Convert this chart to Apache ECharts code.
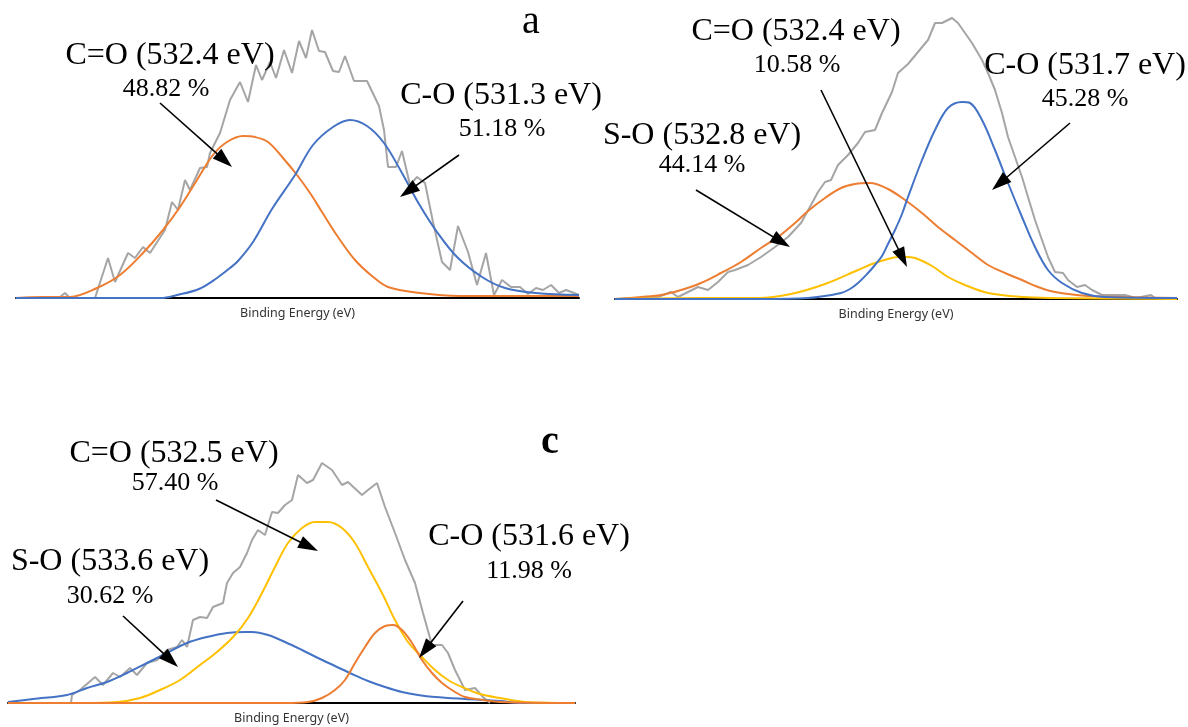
<!DOCTYPE html>
<html><head><meta charset="utf-8">
<script src="https://cdn.jsdelivr.net/npm/echarts@6/dist/echarts.min.js"></script>
<style>html,body{margin:0;padding:0;background:#fff}#chart{width:1188px;height:727px}</style>
</head><body><div id="chart"></div>
<script>
// ---------- Panel a (x: position along energy axis, y: intensity, a.u.) ----------
const aRaw = [[34,0],[44,1],[49,5],[54,0],[79,0],[92,40],[99,16],[112,45],[119,40],[127,51],[134,45],[149,68],[156,96],[162,88],[169,118],[174,108],[184,130],[191,131],[194,145],[204,165],[214,198],[224,216],[232,196],[240,233],[246,218],[254,236],[260,220],[268,248],[276,225],[283,257],[290,240],[296,268],[303,247],[309,246],[317,227],[323,226],[329,242],[338,217],[351,217],[363,192],[368,168],[372,131],[380,131],[386,147],[394,113],[401,121],[409,115],[417,76],[426,36],[434,28],[442,72],[452,46],[461,13],[470,45],[478,3],[486,18],[495,11],[504,11],[512,4],[520,10],[527,8],[535,13],[543,5],[550,8],[558,5],[563,3]];
const aCdO = [[0,0],[27,1],[54,1],[81,10],[104,23],[127,45],[147,68],[164,91],[181,118],[197,143],[211,156],[227,162],[239,161],[252,156],[267,140],[281,123],[294,105],[306,86],[322,61],[339,38],[356,22],[372,11],[404,5],[444,2],[563,2]];
const aCO = [[0,0],[124,0],[145,0],[161,3],[183,9],[201,20],[214,30],[222,37],[237,56],[256,89],[279,123],[297,153],[317,171],[334,178],[351,172],[368,155],[386,125],[403,94],[421,66],[441,41],[466,21],[489,10],[520,5],[563,3]];
const aTexts = ['C=O (532.4 eV)','48.82 %','C-O (531.3 eV)','51.18 %','a'];

// ---------- Panel b ----------
const bRaw = [[0,0],[25,1],[43,2],[56,7],[63,2],[73,7],[83,12],[93,9],[103,17],[113,27],[120,29],[133,34],[146,42],[160,52],[173,62],[186,76],[196,94],[203,107],[210,117],[216,119],[223,134],[233,144],[243,156],[250,167],[260,169],[267,186],[277,207],[283,226],[293,235],[303,247],[313,259],[320,276],[327,276],[337,281],[343,276],[350,266],[357,256],[367,239],[373,226],[380,209],[387,186],[393,162],[400,142],[407,122],[413,102],[420,79],[427,59],[433,42],[440,27],[448,26],[453,19],[462,12],[470,14],[477,9],[487,4],[505,4],[510,4],[521,1],[536,4],[540,1],[562,0]];
const bSO = [[0,0],[26,2],[46,4],[66,9],[86,16],[106,26],[126,37],[146,51],[163,62],[180,76],[193,88],[210,101],[226,111],[240,115],[255,116],[273,110],[290,99],[307,86],[323,72],[340,59],[357,46],[373,34],[390,26],[407,19],[423,12],[440,7],[473,3],[505,2],[562,1]];
const bCdO = [[0,0],[85,1],[143,1],[176,5],[210,15],[243,29],[257,35],[273,40],[283,42],[291,42],[300,41],[317,33],[333,22],[350,14],[373,6],[407,2],[440,1],[562,0]];
const bCO = [[0,0],[145,0],[193,1],[226,6],[235,10],[243,16],[253,26],[260,34],[267,43],[273,55],[280,69],[287,85],[293,102],[307,139],[320,169],[333,191],[347,197],[355,196],[367,179],[380,149],[393,116],[407,82],[420,52],[433,29],[447,16],[467,6],[490,2],[562,1]];
const bTexts = ['C=O (532.4 eV)','10.58 %','S-O (532.8 eV)','44.14 %','C-O (531.7 eV)','45.28 %'];

// ---------- Panel c ----------
const cRaw = [[63,0],[64,8],[72,13],[87,26],[95,18],[105,30],[112,26],[122,35],[129,28],[139,40],[149,43],[159,53],[169,56],[174,63],[179,56],[185,83],[192,86],[199,85],[205,96],[215,100],[219,120],[225,130],[232,136],[239,150],[244,163],[250,173],[257,168],[264,191],[270,190],[277,198],[284,203],[290,228],[299,220],[305,223],[314,240],[324,233],[334,218],[340,221],[354,208],[360,213],[369,220],[377,196],[387,170],[397,143],[407,120],[415,90],[424,58],[434,58],[440,50],[447,33],[457,13],[467,15],[475,6],[482,0]];
const cCdO = [[0,0],[72,0],[109,1],[132,5],[152,13],[172,23],[192,38],[209,51],[226,67],[240,85],[254,110],[267,136],[280,160],[294,175],[307,181],[320,181],[334,175],[347,160],[360,136],[374,110],[387,83],[400,61],[414,46],[427,33],[440,23],[454,16],[472,9],[492,5],[517,1],[567,0]];
const cSO = [[0,1],[25,4],[59,8],[79,15],[99,21],[119,30],[139,40],[159,50],[179,60],[199,66],[219,70],[237,71],[244,71],[260,68],[277,61],[294,53],[310,45],[327,37],[344,29],[360,22],[377,16],[394,11],[410,8],[427,6],[457,4],[492,2],[513,0],[567,0]];
const cCO = [[0,0],[242,0],[277,0],[300,1],[314,5],[327,13],[337,23],[347,40],[357,56],[367,70],[377,77],[385,78],[394,73],[404,60],[414,43],[424,30],[434,20],[447,11],[457,6],[475,3],[492,1],[567,0]];
const cTexts = ['C=O (532.5 eV)','57.40 %','S-O (533.6 eV)','30.62 %','C-O (531.6 eV)','11.98 %','c'];

const xName = 'Binding Energy (eV)';

// ---------- annotation layout (anchors in each panel's data units) ----------
const layoutA = { labels:[[154,242,32],[150,209,26],[485,202,32],[486,169,26],[515,276,40]],
  arrows:[[[144,195],[216,131]],[[443,143],[384,101]]] };
const layoutB = { labels:[[181,267,32],[182,234,26],[87,163,32],[87,134,26],[470,233,32],[470,200,26]],
  arrows:[[[81,109],[175,52]],[[206,209],[292,32]],[[455,176],[377,109]]] };
const layoutC = { labels:[[166,249,32],[167,220,26],[102,141,32],[102,107,26],[521,166,32],[521,132,26],[542,260,40,'bold']],
  arrows:[[[208,203],[310,152]],[[115,87],[170,36]],[[455,102],[411,45]]] };

const GRAY='#A5A5A5', ORANGE='#ED7D31', BLUE='#4472C4', YELLOW='#FFC000';
const HEAD = 20; // arrow-head length (px); axes are 1 unit = 1 px

const panels = [
  {grid:{left:16,top:0,width:563,height:298}, xMax:563, yMax:298,
   curves:[[aRaw,GRAY,false],[aCdO,ORANGE,true],[aCO,BLUE,true]], texts:aTexts, layout:layoutA},
  {grid:{left:615,top:0,width:562,height:299}, xMax:562, yMax:299,
   curves:[[bRaw,GRAY,false],[bSO,ORANGE,true],[bCdO,YELLOW,true],[bCO,BLUE,true]], texts:bTexts, layout:layoutB},
  {grid:{left:8,top:420,width:567,height:283}, xMax:567, yMax:283,
   curves:[[cRaw,GRAY,false],[cSO,BLUE,true],[cCdO,YELLOW,true],[cCO,ORANGE,true]], texts:cTexts, layout:layoutC}
];

// pull the end point back by half the head so the triangle tip lands on the target
function arrowPair(a){
  const dx=a[1][0]-a[0][0], dy=a[1][1]-a[0][1], L=Math.hypot(dx,dy), k=(HEAD/2)/L;
  return [{coord:a[0]},{coord:[a[1][0]-dx*k, a[1][1]-dy*k]}];
}

const option = {animation:false, backgroundColor:'#fff', textStyle:{color:'#000'},
  grid:[], xAxis:[], yAxis:[], series:[]};
panels.forEach((p,i)=>{
  option.grid.push(p.grid);
  option.xAxis.push({type:'value', gridIndex:i, min:0, max:p.xMax,
    name:xName, nameLocation:'middle', nameGap:9,
    nameTextStyle:{fontFamily:'Noto Sans', fontSize:12.5, color:'#333', verticalAlign:'top'},
    axisLine:{show:true, onZero:false, lineStyle:{color:'#000', width:2}},
    axisTick:{show:false}, axisLabel:{show:false}, splitLine:{show:false}});
  option.yAxis.push({type:'value', gridIndex:i, min:0, max:p.yMax, show:false});
  p.curves.forEach(c=>{
    option.series.push({type:'line', xAxisIndex:i, yAxisIndex:i, data:c[0], showSymbol:false,
      smooth:c[2]?0.35:false, clip:false, silent:true,
      lineStyle:{color:c[1], width:2}});
  });
  option.series.push({type:'scatter', xAxisIndex:i, yAxisIndex:i, symbolSize:0, clip:false, silent:true, z:10,
    itemStyle:{color:'#000', opacity:1},
    label:{show:true, position:'inside', color:'#000', fontFamily:'Liberation Serif',
      textBorderWidth:0, formatter:(d)=>d.name},
    data:p.layout.labels.map((l,k)=>({name:p.texts[k], value:[l[0],l[1]],
      label:{fontSize:l[2], fontWeight:l[3]||'normal', color:'#000'}})),
    markLine:{silent:true, symbol:['none','triangle'], symbolSize:[13,HEAD], animation:false,
      lineStyle:{color:'#000', width:1.6, type:'solid', opacity:1}, label:{show:false},
      emphasis:{disabled:true},
      data:p.layout.arrows.map(arrowPair)}
  });
});
const chart = echarts.init(document.getElementById('chart'), null, {renderer:'canvas'});
chart.setOption(option);
</script></body></html>
